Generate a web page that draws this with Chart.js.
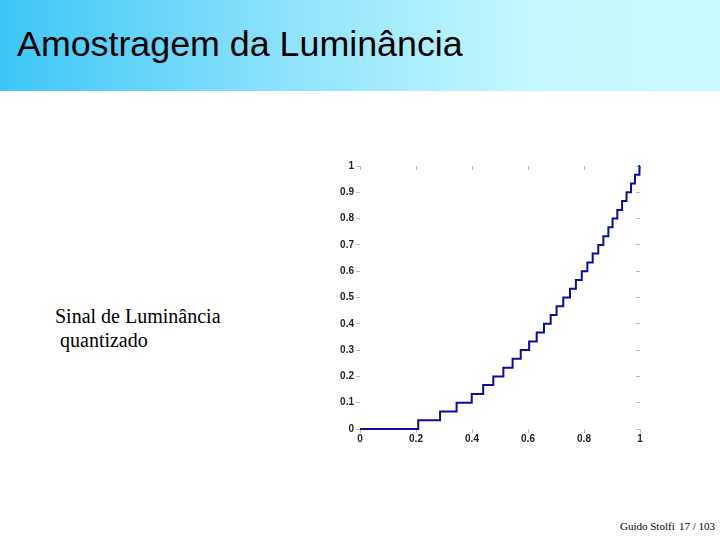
<!DOCTYPE html>
<html>
<head>
<meta charset="utf-8">
<script src="https://cdn.jsdelivr.net/npm/chart.js@4/dist/chart.umd.min.js"></script>
<style>
  body { margin: 0; width: 720px; height: 540px; background: #fff; position: relative; overflow: hidden; }
  #head { position: absolute; left: 0; top: 0; width: 720px; height: 91px;
          background: linear-gradient(to right, #3cc6f6 0%, #8fe3fc 40%, #c6f9ff 75%, #c8faff 100%); }
  #title { position: absolute; left: 17px; top: 24px; font: 35.8px "Liberation Sans", Arial, sans-serif; color: #000; }
  #side { position: absolute; left: 55px; top: 304px; font: 20px "Liberation Serif", "Times New Roman", serif; line-height: 24px; color: #000; white-space: pre; }
  .foot { position: absolute; top: 520px; font: 11px "Liberation Serif", "Times New Roman", serif; color: #000; white-space: pre; }
  #wrap { position: absolute; left: 320px; top: 155px; width: 340px; height: 295px; }
</style>
</head>
<body>
<div id="head"><div id="title">Amostragem da Luminância</div></div>
<div id="side">Sinal de Luminância
 quantizado</div>
<div class="foot" style="left:620px">Guido Stolfi</div>
<div class="foot" style="left:679px">17 / 103</div>
<div id="wrap"><canvas id="chart"></canvas></div>
<script>
// luminance input where each quantization step starts
var stepX = [0, 0.208, 0.286, 0.345, 0.399, 0.440, 0.476, 0.512, 0.545, 0.574, 0.604,
             0.631, 0.657, 0.681, 0.702, 0.726, 0.750, 0.771, 0.792, 0.812, 0.831,
             0.851, 0.869, 0.887, 0.902, 0.919, 0.936, 0.952, 0.968, 0.982, 0.998, 1];
// quantized output level
var levels = [0, 0.033, 0.067, 0.1, 0.133, 0.167, 0.2, 0.233, 0.267, 0.3, 0.333,
              0.367, 0.4, 0.433, 0.467, 0.5, 0.533, 0.567, 0.6, 0.633, 0.667,
              0.7, 0.733, 0.767, 0.8, 0.833, 0.867, 0.9, 0.933, 0.967, 1, 1];
var xTicks = [0, 0.2, 0.4, 0.6, 0.8, 1];
var yTicks = [0, 0.1, 0.2, 0.3, 0.4, 0.5, 0.6, 0.7, 0.8, 0.9, 1];

var pts = stepX.map(function (x, i) { return { x: x, y: levels[i] }; });
var tickFont = { family: 'Liberation Sans', size: 10, weight: 'bold' };

function fixW(w) { return function (s) { s.width = w; }; }
function fixH(h) { return function (s) { s.height = h; }; }
function setTicks(vals) { return function (s) { s.ticks = vals.map(function (v) { return { value: v }; }); }; }

var ctx = document.getElementById('chart');
var mychart = new Chart(ctx, {
  type: 'scatter',
  data: {
    datasets: [{
      data: pts,
      showLine: true,
      stepped: true,
      borderColor: '#0c0ca0',
      borderWidth: 2,
      pointRadius: 0,
      clip: 5
    }]
  },
  options: {
    responsive: true,
    maintainAspectRatio: false,
    animation: false,
    layout: { padding: 0 },
    plugins: { legend: { display: false }, tooltip: { enabled: false } },
    scales: {
      x: {
        type: 'linear', position: 'bottom', min: 0, max: 1,
        afterBuildTicks: setTicks(xTicks),
        afterFit: fixH(21),
        border: { display: false },
        grid: { drawOnChartArea: false, tickLength: 4, color: '#bbbbbb' },
        ticks: { font: tickFont, color: '#222', padding: 0,
                 callback: function (v) { return String(v); } }
      },
      x2: {
        type: 'linear', position: 'top', min: 0, max: 1,
        afterBuildTicks: setTicks(xTicks),
        afterFit: fixH(11),
        border: { display: false },
        grid: { drawOnChartArea: false, tickLength: -4, color: '#bbbbbb' },
        ticks: { display: false }
      },
      y: {
        type: 'linear', position: 'left', min: 0, max: 1,
        afterBuildTicks: setTicks(yTicks),
        afterFit: fixW(40),
        border: { display: false },
        grid: { drawOnChartArea: false, tickLength: 4, color: '#bbbbbb' },
        ticks: { font: tickFont, color: '#222', padding: 2,
                 callback: function (v) { return String(v); } }
      },
      y2: {
        type: 'linear', position: 'right', min: 0, max: 1,
        afterBuildTicks: setTicks(yTicks),
        afterFit: fixW(20),
        border: { display: false },
        grid: { drawOnChartArea: false, tickLength: -4, color: '#bbbbbb' },
        ticks: { display: false }
      }
    }
  }
});
</script>
</body>
</html>
